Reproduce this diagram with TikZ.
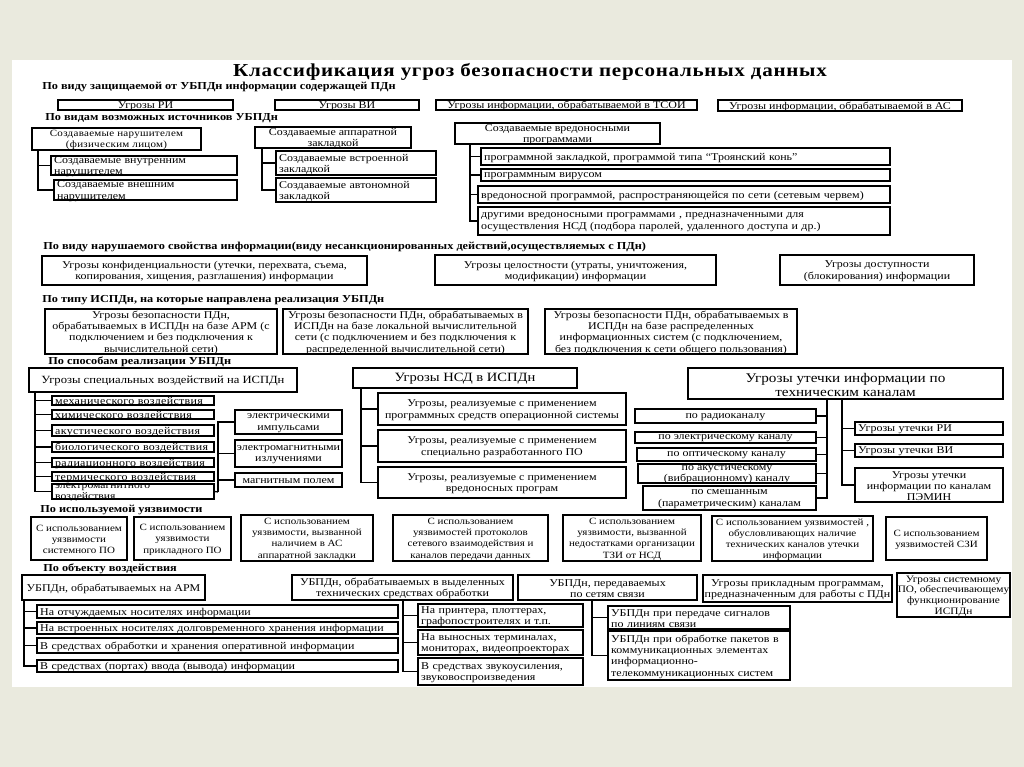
\documentclass[tikz,border=0pt]{standalone}
\usepackage{fontspec}
\setmainfont[FakeStretch=1.15]{Liberation Serif}
\definecolor{frame}{RGB}{234,234,222}

% box from (x1,y1) to (x2,y2) in image pixels, text node on top of it
\newcommand\bx[7][]{%
  \pgfmathsetmacro\bxw{(#5-#3)*0.025}%
  \pgfmathsetmacro\bxh{(#6-#4)*0.025}%
  \pgfmathsetmacro\bxt{(#5-#3)*0.025-0.16}%
  \node[box,minimum width=\bxw cm,minimum height=\bxh cm] (#2) at ({(#3+#5)/2},{(#4+#6)/2}) {};
  \node[txt,#1] (#2t) at (#2.center) {#7};}

\begin{document}
\begin{tikzpicture}[x=0.025cm,y=-0.025cm,
  box/.style={draw,line width=1.1pt,inner sep=0pt},
  txt/.style={inner sep=0pt,yshift=-0.8pt,align=center,font=\fontsize{7.4}{8}\selectfont},
  lft/.style={align=left,text width=\bxt cm},
  sml/.style={font=\fontsize{6.8}{8}\selectfont},
  spc/.style={font=\fontsize{7.4}{8}\selectfont\addfontfeature{LetterSpace=3}},
  hd/.style={anchor=west,inner sep=0pt,font=\fontsize{7.6}{8}\selectfont\bfseries},
  con/.style={line width=0.9pt}]

\useasboundingbox (0,0) rectangle (1024,767);
\fill[frame] (0,0) rectangle (1024,767);
\fill[white] (12,60) rectangle (1012,687);

\node[font=\fontsize{13}{14}\selectfont\bfseries\addfontfeature{LetterSpace=4}] (title) at (530,72) {Классификация угроз безопасности персональных данных};

% headers
\node[hd] (h1) at (42,87) {По виду защищаемой от УБПДн информации содержащей ПДн};
\node[hd] (h2) at (45,118) {По видам возможных источников УБПДн};
\node[hd] (h3) at (43,247) {По виду нарушаемого свойства информации(виду несанкционированных действий,осуществляемых с ПДн)};
\node[hd] (h4) at (42,300) {По типу ИСПДн, на которые направлена реализация УБПДн};
\node[hd] (h5) at (48,362) {По способам реализации УБПДн};
\node[hd] (h6) at (40,510) {По используемой уязвимости};
\node[hd] (h7) at (43,569) {По объекту воздействия};

% kind of information
\bx{r1}{58}{100}{233}{110}{Угрозы РИ}
\bx{r2}{275}{100}{419}{110}{Угрозы ВИ}
\bx{r3}{436}{100}{697}{110}{Угрозы информации, обрабатываемой в ТСОИ}
\bx{r4}{718}{100}{962}{111}{Угрозы информации, обрабатываемой в  АС}

% sources
\bx[font=\fontsize{6.8}{8}\selectfont\addfontfeature{LetterSpace=3}]{s1}{32}{128}{201}{150}{Создаваемые нарушителем\\(физическим лицом)}
\bx[lft]{s2}{51}{156}{237}{175}{Создаваемые внутренним\\нарушителем}
\bx[lft]{s3}{54}{180}{237}{200}{Создаваемые внешним\\нарушителем}
\bx{s4}{255}{127}{411}{148}{Создаваемые аппаратной\\закладкой}
\bx[lft]{s5}{276}{151}{436}{175}{Создаваемые встроенной\\закладкой}
\bx[lft]{s6}{276}{178}{436}{202}{Создаваемые автономной\\закладкой}
\bx{s7}{455}{123}{660}{144}{Создаваемые вредоносными\\программами}
\bx[lft]{s8}{481}{148}{890}{165}{программной  закладкой, программой типа “Троянский конь”}
\bx[lft]{s9}{481}{169}{890}{181}{программным вирусом}
\bx[lft]{s10}{478}{186}{890}{203}{вредоносной программой, распространяющейся по сети (сетевым червем)}
\bx[lft]{s11}{478}{207}{890}{235}{другими вредоносными программами , предназначенными для\\осуществления  НСД (подбора паролей, удаленного доступа и др.)}

\coordinate (j1) at (38,150);
\coordinate (j2) at (262,148);
\coordinate (j3) at (470,144);
\foreach \c in {s2,s3} \draw[con] (j1) |- (\c.west);
\foreach \c in {s5,s6} \draw[con] (j2) |- (\c.west);
\foreach \c in {s8,s9,s10,s11} \draw[con] (j3) |- (\c.west);

% properties
\bx{p1}{42}{256}{367}{285}{Угрозы конфиденциальности (утечки, перехвата, съема,\\копирования, хищения, разглашения) информации}
\bx{p2}{435}{255}{716}{285}{Угрозы целостности (утраты, уничтожения,\\модификации) информации}
\bx{p3}{780}{255}{974}{285}{Угрозы доступности\\(блокирования) информации}

% types of ISPDn
\bx{t1}{45}{309}{277}{354}{Угрозы безопасности ПДн,\\обрабатываемых в ИСПДн на базе АРМ (с\\подключением и без подключения к\\вычислительной сети)}
\bx{t2}{283}{309}{528}{354}{Угрозы безопасности ПДн, обрабатываемых в\\ИСПДн на базе локальной вычислительной\\сети (с подключением и без подключения к\\распределенной вычислительной сети)}
\bx{t3}{545}{309}{797}{354}{Угрозы безопасности ПДн, обрабатываемых в\\ИСПДн на базе распределенных\\информационных систем (с подключением,\\без подключения к сети  общего пользования)}

% ways of realisation
\bx[font=\fontsize{7.8}{9}\selectfont]{m1}{29}{368}{297}{392}{Угрозы  специальных воздействий на ИСПДн}
\bx[lft,spc]{m2}{52}{396}{214}{405}{механического воздействия}
\bx[lft,spc]{m3}{52}{410}{214}{419}{химического воздействия}
\bx[lft,spc]{m4}{52}{425}{214}{436}{акустического воздействия}
\bx[lft,spc]{m5}{52}{442}{214}{452}{биологического воздействия}
\bx[lft,spc]{m6}{52}{458}{214}{467}{радиационного воздействия}
\bx[lft,spc]{m7}{52}{472}{214}{481}{термического воздействия}
\bx[lft,spc,font=\fontsize{7.2}{6.4}\selectfont]{m8}{52}{484}{214}{499}{электромагнитного\\воздействия}
\bx{m9}{235}{410}{342}{434}{электрическими\\импульсами}
\bx{m10}{235}{440}{342}{467}{электромагнитными\\излучениями}
\bx{m11}{235}{473}{342}{487}{магнитным полем}

\coordinate (j4) at (35,392);
\coordinate (j5) at (218,492);
\foreach \c in {m2,m3,m4,m5,m6,m7,m8} \draw[con] (j4) |- (\c.west);
\draw[con] (m8.east) -- (j5);
\foreach \c in {m9,m10,m11} \draw[con] (j5) |- (\c.west);

\bx[font=\fontsize{9}{10}\selectfont]{n1}{353}{368}{577}{388}{Угрозы НСД в ИСПДн}
\bx{n2}{378}{393}{626}{425}{Угрозы, реализуемые с применением\\программных средств операционной системы}
\bx{n3}{378}{430}{626}{462}{Угрозы, реализуемые с применением\\специально разработанного  ПО}
\bx{n4}{378}{467}{626}{498}{Угрозы, реализуемые с применением\\вредоносных програм}

\coordinate (j6) at (361,388);
\foreach \c in {n2,n3,n4} \draw[con] (j6) |- (\c.west);

\bx[font=\fontsize{9.4}{10}\selectfont]{l1}{688}{368}{1003}{399}{Угрозы утечки информации по\\техническим каналам}
\bx{l2}{635}{409}{816}{423}{по радиоканалу}
\bx{l3}{635}{432}{816}{443}{по электрическому  каналу}
\bx{l4}{637}{448}{816}{461}{по оптическому каналу}
\bx[font=\fontsize{7.4}{6.8}\selectfont]{l5}{638}{464}{816}{483}{по акустическому\\(вибрационному) каналу}
\bx{l6}{643}{486}{816}{510}{по смешанным\\(параметрическим) каналам}
\bx[lft]{l7}{855}{422}{1003}{435}{Угрозы утечки РИ}
\bx[lft]{l8}{855}{444}{1003}{457}{Угрозы утечки ВИ}
\bx{l9}{855}{468}{1003}{502}{Угрозы утечки\\информации по каналам\\ПЭМИН}

\coordinate (j7) at (827,399);
\coordinate (j8) at (842,399);
\foreach \c in {l2,l3,l4,l5,l6} \draw[con] (j7) |- (\c.east);
\foreach \c in {l7,l8,l9} \draw[con] (j8) |- (\c.west);

% vulnerabilities
\bx[sml]{v1}{31}{517}{127}{560}{С использованием\\уязвимости\\системного ПО}
\bx[sml]{v2}{134}{517}{231}{560}{С использованием\\уязвимости\\прикладного ПО}
\bx[sml]{v3}{241}{515}{373}{561}{С использованием\\уязвимости, вызванной\\наличием в АС\\аппаратной закладки}
\bx[sml]{v4}{393}{515}{548}{561}{С использованием\\уязвимостей протоколов\\сетевого взаимодействия и\\каналов передачи данных}
\bx[sml]{v5}{563}{515}{701}{561}{С использованием\\уязвимости, вызванной\\недостатками организации\\ТЗИ от НСД}
\bx[sml]{v6}{712}{516}{873}{561}{С использованием уязвимостей ,\\обусловливающих наличие\\технических каналов утечки\\информации}
\bx[sml]{v7}{886}{517}{987}{560}{С использованием\\уязвимостей СЗИ}

% objects
\bx{o1}{22}{575}{205}{600}{УБПДн, обрабатываемых на АРМ}
\bx[lft]{o2}{37}{605}{398}{618}{На отчуждаемых носителях информации}
\bx[lft]{o3}{37}{622}{398}{634}{На  встроенных носителях долговременного хранения информации}
\bx[lft]{o4}{37}{638}{398}{653}{В средствах обработки и хранения оперативной информации}
\bx[lft]{o5}{37}{660}{398}{672}{В средствах (портах) ввода (вывода) информации}
\bx{o6}{292}{575}{513}{600}{УБПДн, обрабатываемых в выделенных\\технических средствах обработки}
\bx[lft]{o7}{418}{604}{583}{627}{На принтера, плоттерах,\\графопостроителях и т.п.}
\bx[lft]{o8}{418}{630}{583}{655}{На выносных терминалах,\\мониторах, видеопроекторах}
\bx[lft]{o9}{418}{658}{583}{685}{В средствах звукоусиления,\\звуковоспроизведения}
\bx{o10}{518}{575}{697}{600}{УБПДн, передаваемых\\по сетям связи}
\bx[lft]{o11}{608}{606}{790}{629}{УБПДн при передаче сигналов\\по линиям связи}
\bx[lft]{o12}{608}{631}{790}{680}{УБПДн при обработке пакетов в\\коммуникационных элементах\\информационно-\\телекоммуникационных систем}
\bx{o13}{703}{575}{892}{602}{Угрозы прикладным программам,\\предназначенным для работы с ПДн}
\bx[font=\fontsize{7}{7.6}\selectfont]{o14}{897}{573}{1010}{617}{Угрозы системному\\ПО, обеспечивающему\\функционирование\\ИСПДн}

\coordinate (j9) at (24,600);
\coordinate (j10) at (403,600);
\coordinate (j11) at (592,600);
\foreach \c in {o2,o3,o4,o5} \draw[con] (j9) |- (\c.west);
\foreach \c in {o7,o8,o9} \draw[con] (j10) |- (\c.west);
\foreach \c in {o11,o12} \draw[con] (j11) |- (\c.west);

\end{tikzpicture}
\end{document}
